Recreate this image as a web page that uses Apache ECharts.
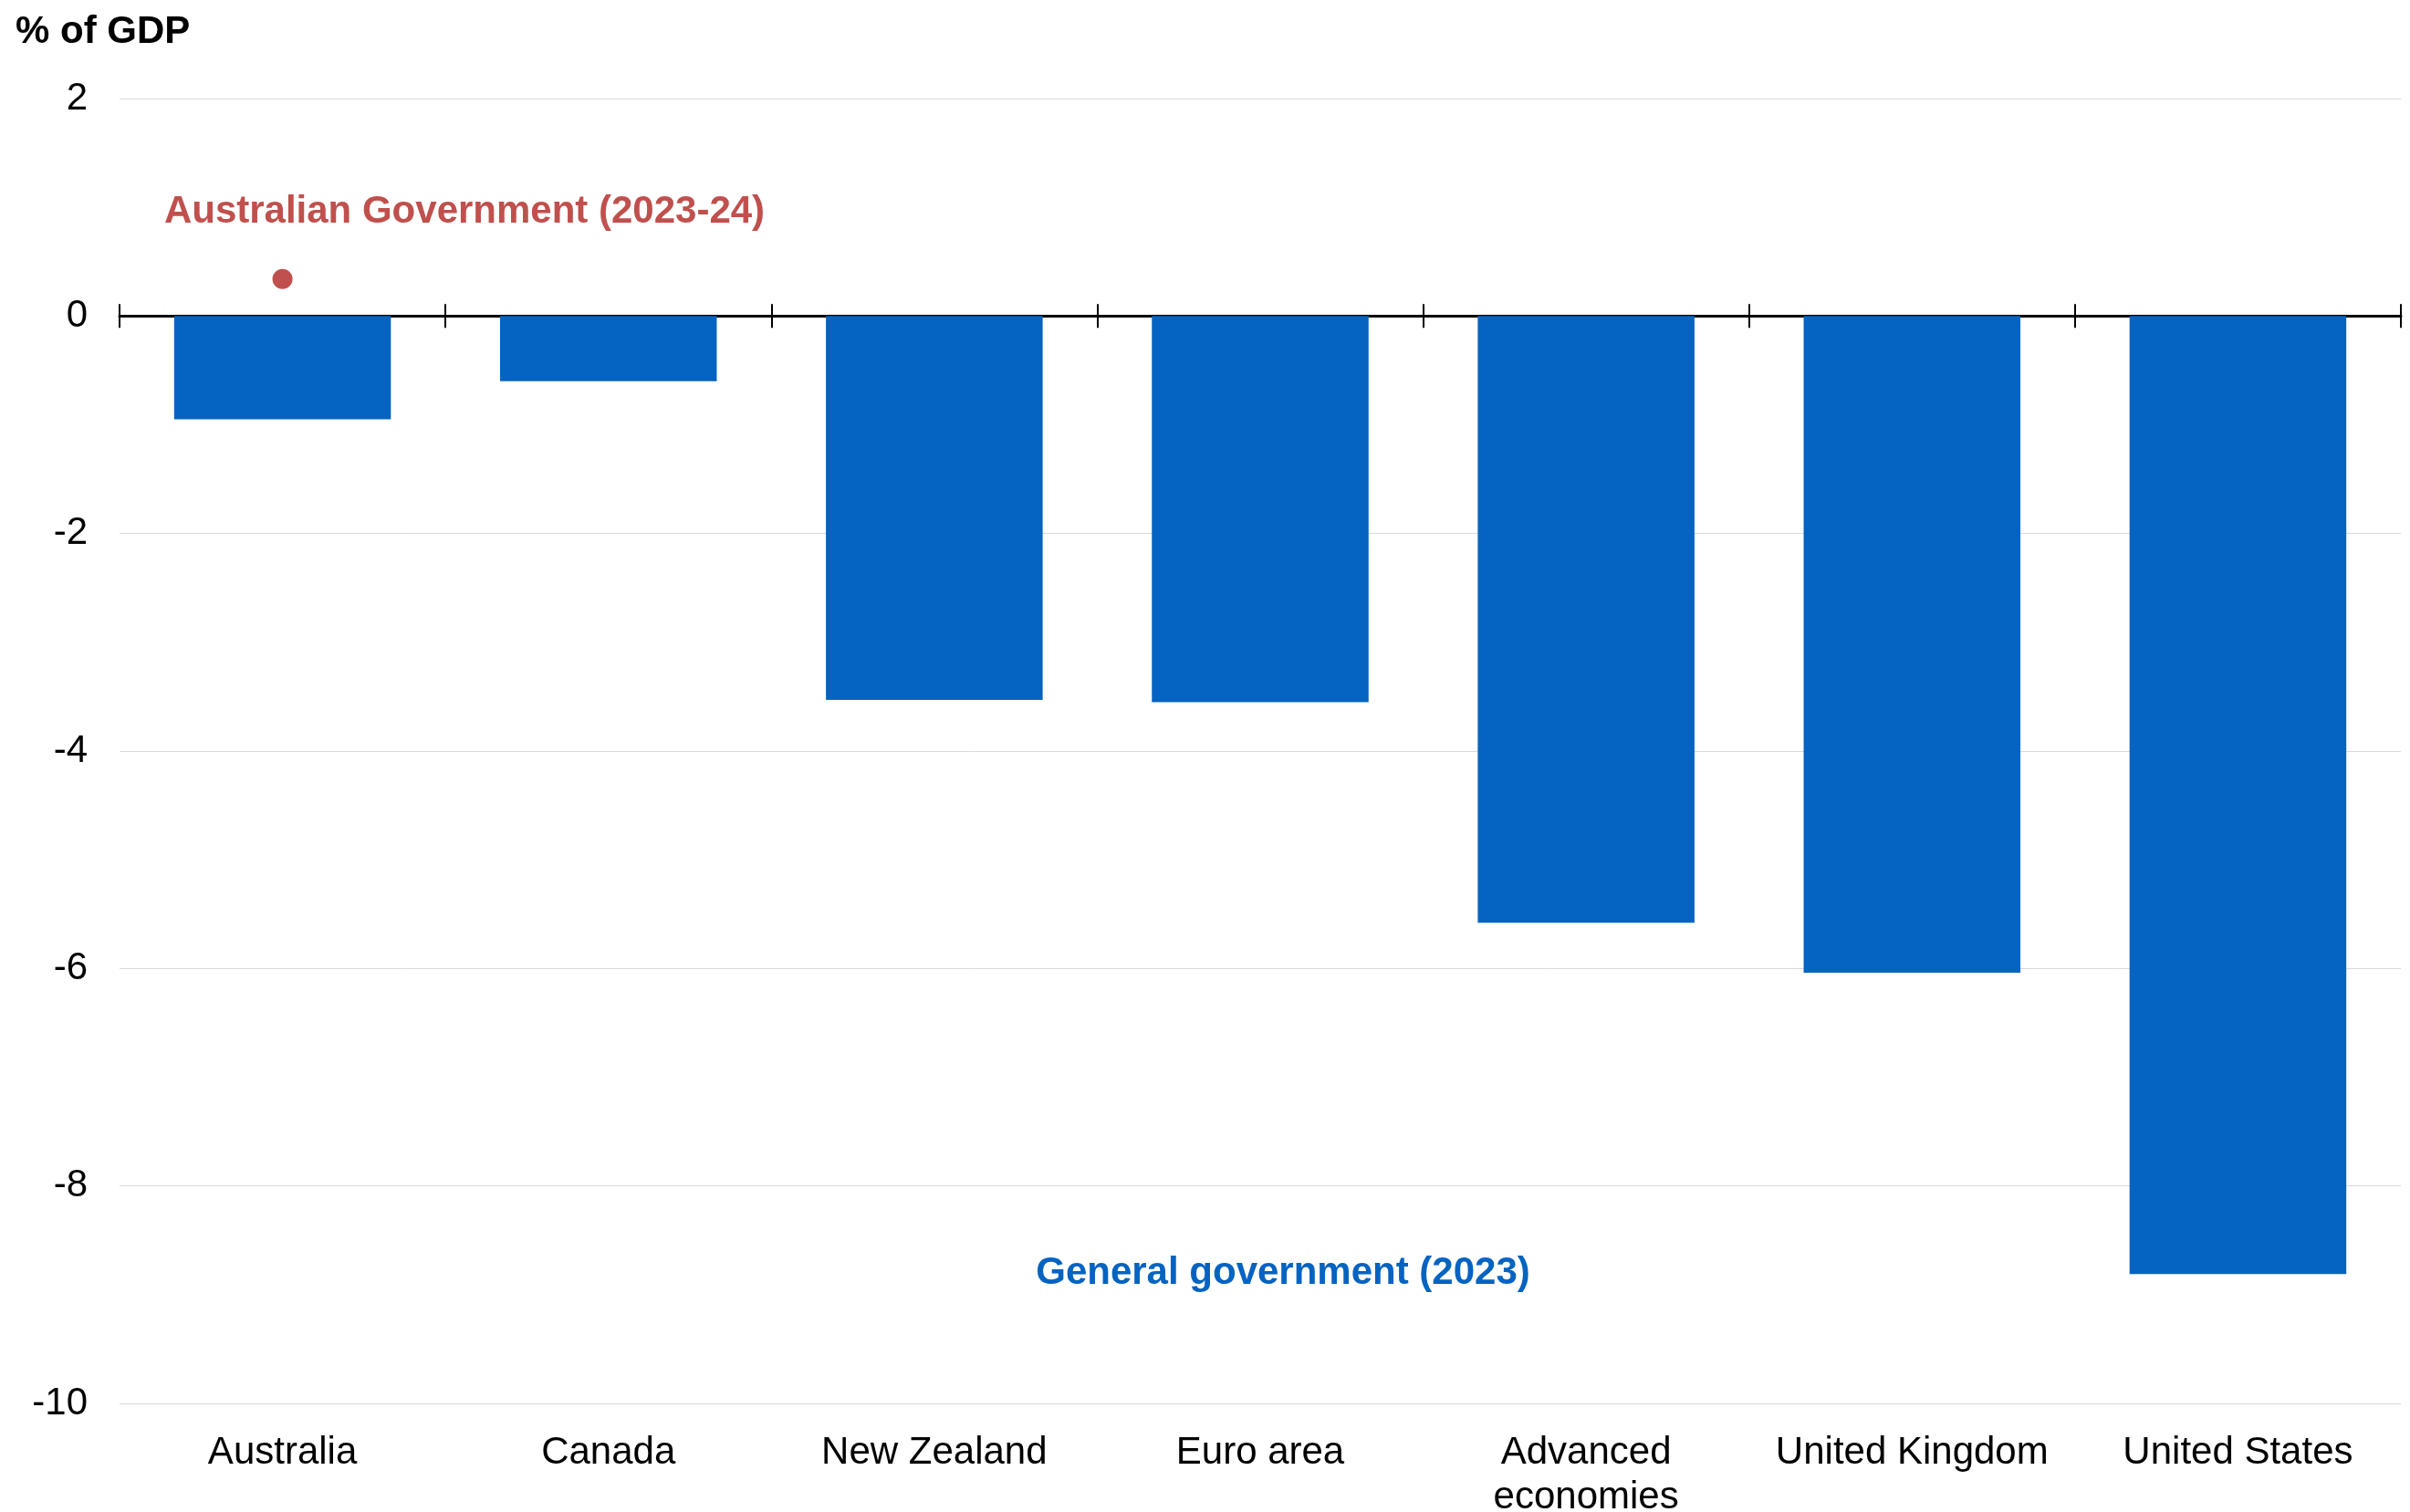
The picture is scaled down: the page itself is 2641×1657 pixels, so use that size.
<!DOCTYPE html>
<html><head><meta charset="utf-8">
<script src="https://cdn.jsdelivr.net/npm/echarts@6/dist/echarts.min.js"></script>
<style>html,body{margin:0;padding:0;background:#fff}#c{width:2641px;height:1657px}</style>
</head><body><div id="c"></div>
<script>
const categories = ['Australia','Canada','New Zealand','Euro area','Advanced\neconomies','United Kingdom','United States'];
const generalGov = [-0.95,-0.6,-3.53,-3.55,-5.58,-6.04,-8.81];
const ausGov = [0.34,null,null,null,null,null,null];
const yTicks = {min:-10,max:2,interval:2};
const FONT = 'Liberation Sans, Arial, sans-serif';
const FS = 42;
const chart = echarts.init(document.getElementById('c'));
const gridBox = {left:131,right:10,top:108,bottom:119,outerBoundsMode:'none',containLabel:false};
chart.setOption({
  animation:false,
  backgroundColor:'#fff',
  grid:[Object.assign({},gridBox),Object.assign({},gridBox)],
  xAxis:[
    {type:'category',data:categories,gridIndex:0,position:'bottom',axisLine:{show:true,onZero:true,onZeroAxisIndex:0,lineStyle:{color:'#000',width:3}},
     axisTick:{show:true,length:13,lineStyle:{color:'#000',width:2}},axisLabel:{show:false}},
    {type:'category',data:categories,gridIndex:0,position:'top',axisLine:{show:false,onZero:true,onZeroAxisIndex:0},
     axisTick:{show:true,length:13,lineStyle:{color:'#000',width:2}},axisLabel:{show:false}},
    {type:'category',data:categories,gridIndex:1,position:'bottom',axisLine:{show:false,onZero:false},axisTick:{show:false},
     axisLabel:{fontFamily:FONT,fontSize:FS,color:'#000',margin:30,lineHeight:49,interval:0}}
  ],
  yAxis:[
    {type:'value',gridIndex:0,min:yTicks.min,max:yTicks.max,interval:yTicks.interval,
     axisLine:{show:false},axisTick:{show:false},
     splitLine:{lineStyle:{color:'#d9d9d9',width:1}},
     axisLabel:{fontFamily:FONT,fontSize:FS,color:'#000',margin:35}},
    {type:'value',gridIndex:1,min:yTicks.min,max:yTicks.max,interval:yTicks.interval,show:false}
  ],
  series:[
    {type:'bar',data:generalGov,barWidth:'66.5%',itemStyle:{color:'#0563C1'},xAxisIndex:0,yAxisIndex:0},
    {type:'scatter',data:ausGov,symbolSize:22,itemStyle:{color:'#C0504D',opacity:1},xAxisIndex:0,yAxisIndex:0,z:5}
  ],
  graphic:[
    {type:'text',left:17,top:14,style:{text:'% of GDP',font:'bold '+FS+'px '+FONT,fill:'#000'}},
    {type:'text',x:509,y:232,style:{text:'Australian Government (2023-24)',font:'bold '+FS+'px '+FONT,fill:'#C0504D',align:'center',verticalAlign:'middle'}},
    {type:'text',x:1406,y:1395,style:{text:'General government (2023)',font:'bold '+FS+'px '+FONT,fill:'#0563C1',align:'center',verticalAlign:'middle'}}
  ]
});
</script></body></html>
